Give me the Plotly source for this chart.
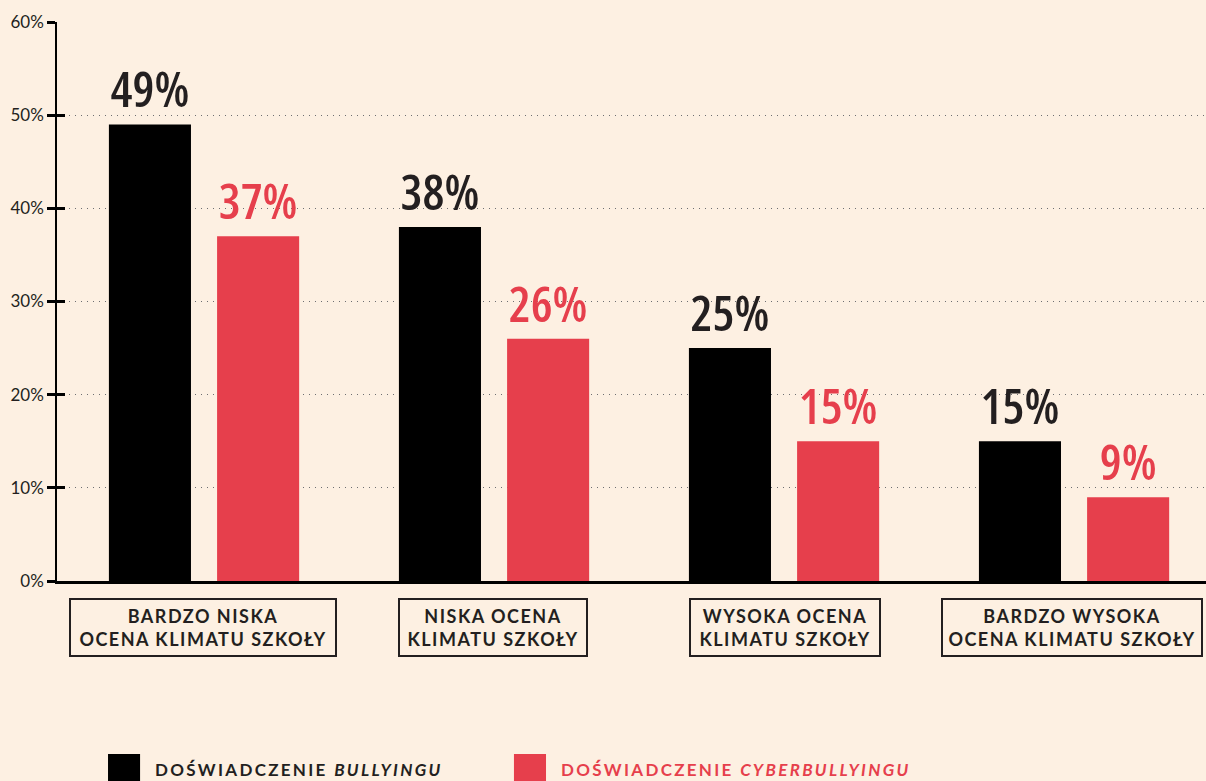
import plotly.graph_objects as go

# ---- data ----
categories = [
    "BARDZO NISKA<br>OCENA KLIMATU SZKOŁY",
    "NISKA OCENA<br>KLIMATU SZKOŁY",
    "WYSOKA OCENA<br>KLIMATU SZKOŁY",
    "BARDZO WYSOKA<br>OCENA KLIMATU SZKOŁY",
]
bullying = [49, 38, 25, 15]
cyberbullying = [37, 26, 15, 9]
series_names = ["DOŚWIADCZENIE <i>BULLYINGU</i>", "DOŚWIADCZENIE <i>CYBERBULLYINGU</i>"]
y_ticks = [0, 10, 20, 30, 40, 50, 60]

# ---- styles ----
BG = "#fdf0e2"
INK = "#231f20"
RED = "#e63f4c"
BLACK = "#000000"
box_widths = [256, 178, 180, 250]
box_shift = [-1, -1, 1, -2]

x_pos = list(range(len(categories)))
bar_w = 0.283


def spaced(s, ls):
    return f'<span style="letter-spacing:{ls}px">{s}</span>'


def condensed(s):
    return f'<span style="font-stretch:75%">{s}</span>'


label_font = "Open Sans, Roboto Condensed, DejaVu Sans Condensed, sans-serif"

fig = go.Figure()
fig.add_trace(go.Bar(
    x=x_pos, y=bullying, width=bar_w, offset=-0.328,
    marker=dict(color=BLACK, line=dict(width=0)),
    text=[condensed(f"{v}%") for v in bullying], textposition="outside",
    textfont=dict(family=label_font, size=49, color=INK, weight=600),
    constraintext="none", cliponaxis=False, showlegend=False, hoverinfo="skip",
))
fig.add_trace(go.Bar(
    x=x_pos, y=cyberbullying, width=bar_w, offset=0.045,
    marker=dict(color=RED, line=dict(width=0)),
    text=[condensed(f"{v}%") for v in cyberbullying], textposition="outside",
    textfont=dict(family=label_font, size=49, color=RED, weight=600),
    constraintext="none", cliponaxis=False, showlegend=False, hoverinfo="skip",
))
# helper trace so the overlay axis (inner tick marks) is drawn
fig.add_trace(go.Scatter(x=[], y=[], yaxis="y2", showlegend=False))

# category boxes
for i, (cat, w, sh) in enumerate(zip(categories, box_widths, box_shift)):
    lines = cat.split("<br>")
    fig.add_annotation(
        x=i, xref="x", y=0, yref="paper", yanchor="top", yshift=-17, xshift=sh,
        text="<br>".join(spaced(l, 1.5) for l in lines),
        showarrow=False, align="center",
        font=dict(family="Lato", size=18, color=INK, weight="bold"),
        bordercolor=INK, borderwidth=2, borderpad=4, bgcolor=BG,
        width=w, height=47,
    )

# legend (manual)
legend_colors = [BLACK, RED]
legend_text_colors = [INK, RED]
legend_swatch_x = [0.0444, 0.3977]
for name, col, tcol, sx in zip(series_names, legend_colors, legend_text_colors, legend_swatch_x):
    fig.add_shape(type="rect", xref="paper", yref="paper",
                  x0=sx, x1=sx + 0.0279, y0=-0.3095, y1=-0.40,
                  fillcolor=col, line=dict(width=0))
    fig.add_annotation(
        x=sx + 0.0395, xref="paper", y=-0.3364, yref="paper",
        xanchor="left", yanchor="middle", showarrow=False,
        text=spaced(name, 2.3),
        font=dict(family="Lato", size=17, color=tcol, weight="bold"),
    )

fig.update_layout(
    width=1206, height=781,
    margin=dict(l=57, r=0, t=22, b=200),
    paper_bgcolor=BG, plot_bgcolor=BG,
    barmode="overlay",
    xaxis=dict(range=[-0.507, 3.455], showgrid=False, zeroline=False,
               showticklabels=False, ticks="",
               showline=True, linecolor=BLACK, linewidth=2.5),
    yaxis=dict(range=[0, 60], tickvals=y_ticks, ticktext=[f"{v}%" for v in y_ticks],
               showgrid=True, gridcolor="#6d6e71", gridwidth=1.3, griddash="1px,5px",
               zeroline=False, showline=True, linecolor=BLACK, linewidth=1.5,
               ticks="outside", ticklen=8, tickwidth=2.5, tickcolor=BLACK,
               tickfont=dict(family="Lato", size=17, color=INK)),
    yaxis2=dict(range=[0, 60], overlaying="y", side="left", anchor="x",
                tickvals=y_ticks, showticklabels=False, showgrid=False,
                zeroline=False, showline=False,
                ticks="inside", ticklen=8, tickwidth=2.5, tickcolor=BLACK),
    font=dict(family="Lato", color=INK),
)

fig.write_html(
    "out.html",
    config={"displayModeBar": False},
    post_script="document.body.style.margin='0';document.body.style.overflow='hidden';",
)
